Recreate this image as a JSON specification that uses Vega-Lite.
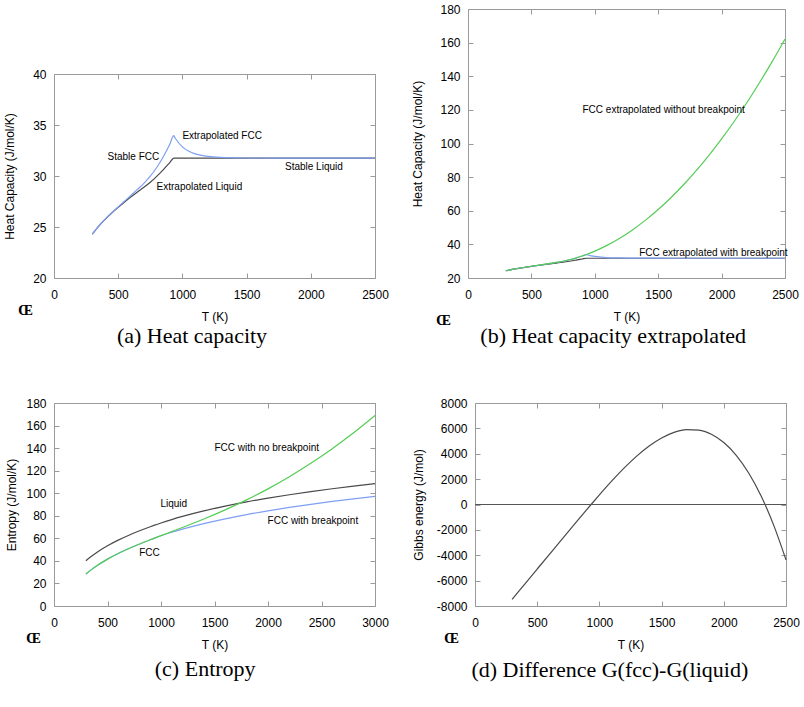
{
  "$schema": "https://vega.github.io/schema/vega-lite/v6.json",
  "padding": {"left": 3, "top": 2, "right": 0, "bottom": 0},
  "background": "white",
  "datasets": {
    "cp": [
      {"T": 298.15, "v": 24.290, "s": "liq"},
      {"T": 350, "v": 25.116, "s": "liq"},
      {"T": 400, "v": 25.778, "s": "liq"},
      {"T": 450, "v": 26.370, "s": "liq"},
      {"T": 500, "v": 26.924, "s": "liq"},
      {"T": 550, "v": 27.451, "s": "liq"},
      {"T": 600, "v": 27.957, "s": "liq"},
      {"T": 650, "v": 28.440, "s": "liq"},
      {"T": 700, "v": 28.892, "s": "liq"},
      {"T": 750, "v": 29.384, "s": "liq"},
      {"T": 800, "v": 29.963, "s": "liq"},
      {"T": 850, "v": 30.606, "s": "liq"},
      {"T": 900, "v": 31.287, "s": "liq"},
      {"T": 933.47, "v": 31.748, "s": "liq"},
      {"T": 2500, "v": 31.748, "s": "liq"},
      {"T": 298.15, "v": 24.292, "s": "fcc_bp"},
      {"T": 350, "v": 25.122, "s": "fcc_bp"},
      {"T": 400, "v": 25.791, "s": "fcc_bp"},
      {"T": 450, "v": 26.398, "s": "fcc_bp"},
      {"T": 500, "v": 26.976, "s": "fcc_bp"},
      {"T": 550, "v": 27.543, "s": "fcc_bp"},
      {"T": 600, "v": 28.113, "s": "fcc_bp"},
      {"T": 650, "v": 28.691, "s": "fcc_bp"},
      {"T": 700, "v": 29.284, "s": "fcc_bp"},
      {"T": 750, "v": 29.977, "s": "fcc_bp"},
      {"T": 800, "v": 30.836, "s": "fcc_bp"},
      {"T": 850, "v": 31.863, "s": "fcc_bp"},
      {"T": 900, "v": 33.058, "s": "fcc_bp"},
      {"T": 933.47, "v": 33.953, "s": "fcc_bp"},
      {"T": 940, "v": 33.805, "s": "fcc_bp"},
      {"T": 950, "v": 33.598, "s": "fcc_bp"},
      {"T": 1000, "v": 32.856, "s": "fcc_bp"},
      {"T": 1050, "v": 32.428, "s": "fcc_bp"},
      {"T": 1100, "v": 32.175, "s": "fcc_bp"},
      {"T": 1150, "v": 32.022, "s": "fcc_bp"},
      {"T": 1200, "v": 31.927, "s": "fcc_bp"},
      {"T": 1300, "v": 31.829, "s": "fcc_bp"},
      {"T": 1400, "v": 31.786, "s": "fcc_bp"},
      {"T": 1500, "v": 31.767, "s": "fcc_bp"},
      {"T": 1700, "v": 31.754, "s": "fcc_bp"},
      {"T": 2000, "v": 31.749, "s": "fcc_bp"},
      {"T": 2500, "v": 31.748, "s": "fcc_bp"},
      {"T": 298.15, "v": 24.292, "s": "fcc_nobp"},
      {"T": 350, "v": 25.122, "s": "fcc_nobp"},
      {"T": 400, "v": 25.791, "s": "fcc_nobp"},
      {"T": 450, "v": 26.398, "s": "fcc_nobp"},
      {"T": 500, "v": 26.976, "s": "fcc_nobp"},
      {"T": 550, "v": 27.543, "s": "fcc_nobp"},
      {"T": 600, "v": 28.113, "s": "fcc_nobp"},
      {"T": 650, "v": 28.691, "s": "fcc_nobp"},
      {"T": 700, "v": 29.284, "s": "fcc_nobp"},
      {"T": 750, "v": 29.977, "s": "fcc_nobp"},
      {"T": 800, "v": 30.836, "s": "fcc_nobp"},
      {"T": 850, "v": 31.863, "s": "fcc_nobp"},
      {"T": 900, "v": 33.058, "s": "fcc_nobp"},
      {"T": 933.47, "v": 33.953, "s": "fcc_nobp"},
      {"T": 1000, "v": 35.958, "s": "fcc_nobp"},
      {"T": 1100, "v": 39.540, "s": "fcc_nobp"},
      {"T": 1200, "v": 43.808, "s": "fcc_nobp"},
      {"T": 1300, "v": 48.763, "s": "fcc_nobp"},
      {"T": 1400, "v": 54.407, "s": "fcc_nobp"},
      {"T": 1500, "v": 60.740, "s": "fcc_nobp"},
      {"T": 1600, "v": 67.763, "s": "fcc_nobp"},
      {"T": 1700, "v": 75.476, "s": "fcc_nobp"},
      {"T": 1800, "v": 83.880, "s": "fcc_nobp"},
      {"T": 1900, "v": 92.975, "s": "fcc_nobp"},
      {"T": 2000, "v": 102.761, "s": "fcc_nobp"},
      {"T": 2100, "v": 113.238, "s": "fcc_nobp"},
      {"T": 2200, "v": 124.406, "s": "fcc_nobp"},
      {"T": 2300, "v": 136.266, "s": "fcc_nobp"},
      {"T": 2400, "v": 148.817, "s": "fcc_nobp"},
      {"T": 2500, "v": 162.059, "s": "fcc_nobp"}
    ],
    "entropy": [
      {"T": 298.15, "v": 40.14, "s": "liq"},
      {"T": 350, "v": 44.10, "s": "liq"},
      {"T": 400, "v": 47.50, "s": "liq"},
      {"T": 500, "v": 53.38, "s": "liq"},
      {"T": 600, "v": 58.38, "s": "liq"},
      {"T": 700, "v": 62.76, "s": "liq"},
      {"T": 800, "v": 66.69, "s": "liq"},
      {"T": 900, "v": 70.29, "s": "liq"},
      {"T": 933.47, "v": 71.44, "s": "liq"},
      {"T": 1000, "v": 73.63, "s": "liq"},
      {"T": 1100, "v": 76.65, "s": "liq"},
      {"T": 1200, "v": 79.42, "s": "liq"},
      {"T": 1400, "v": 84.31, "s": "liq"},
      {"T": 1600, "v": 88.55, "s": "liq"},
      {"T": 1800, "v": 92.29, "s": "liq"},
      {"T": 2000, "v": 95.63, "s": "liq"},
      {"T": 2200, "v": 98.66, "s": "liq"},
      {"T": 2400, "v": 101.42, "s": "liq"},
      {"T": 2600, "v": 103.96, "s": "liq"},
      {"T": 2800, "v": 106.32, "s": "liq"},
      {"T": 3000, "v": 108.50, "s": "liq"},
      {"T": 298.15, "v": 28.30, "s": "fcc_bp"},
      {"T": 350, "v": 32.26, "s": "fcc_bp"},
      {"T": 400, "v": 35.66, "s": "fcc_bp"},
      {"T": 500, "v": 41.55, "s": "fcc_bp"},
      {"T": 600, "v": 46.56, "s": "fcc_bp"},
      {"T": 700, "v": 50.99, "s": "fcc_bp"},
      {"T": 800, "v": 54.99, "s": "fcc_bp"},
      {"T": 900, "v": 58.74, "s": "fcc_bp"},
      {"T": 933.47, "v": 59.97, "s": "fcc_bp"},
      {"T": 1000, "v": 62.26, "s": "fcc_bp"},
      {"T": 1100, "v": 65.36, "s": "fcc_bp"},
      {"T": 1200, "v": 68.14, "s": "fcc_bp"},
      {"T": 1400, "v": 73.05, "s": "fcc_bp"},
      {"T": 1600, "v": 77.29, "s": "fcc_bp"},
      {"T": 1800, "v": 81.03, "s": "fcc_bp"},
      {"T": 2000, "v": 84.38, "s": "fcc_bp"},
      {"T": 2200, "v": 87.40, "s": "fcc_bp"},
      {"T": 2400, "v": 90.17, "s": "fcc_bp"},
      {"T": 2600, "v": 92.71, "s": "fcc_bp"},
      {"T": 2800, "v": 95.06, "s": "fcc_bp"},
      {"T": 3000, "v": 97.24, "s": "fcc_bp"},
      {"T": 298.15, "v": 28.30, "s": "fcc_nobp"},
      {"T": 350, "v": 32.26, "s": "fcc_nobp"},
      {"T": 400, "v": 35.66, "s": "fcc_nobp"},
      {"T": 500, "v": 41.55, "s": "fcc_nobp"},
      {"T": 600, "v": 46.56, "s": "fcc_nobp"},
      {"T": 700, "v": 50.99, "s": "fcc_nobp"},
      {"T": 800, "v": 54.99, "s": "fcc_nobp"},
      {"T": 900, "v": 58.74, "s": "fcc_nobp"},
      {"T": 933.47, "v": 59.97, "s": "fcc_nobp"},
      {"T": 1000, "v": 62.37, "s": "fcc_nobp"},
      {"T": 1100, "v": 65.96, "s": "fcc_nobp"},
      {"T": 1200, "v": 69.58, "s": "fcc_nobp"},
      {"T": 1400, "v": 77.09, "s": "fcc_nobp"},
      {"T": 1600, "v": 85.20, "s": "fcc_nobp"},
      {"T": 1800, "v": 94.08, "s": "fcc_nobp"},
      {"T": 2000, "v": 103.87, "s": "fcc_nobp"},
      {"T": 2200, "v": 114.66, "s": "fcc_nobp"},
      {"T": 2400, "v": 126.51, "s": "fcc_nobp"},
      {"T": 2600, "v": 139.48, "s": "fcc_nobp"},
      {"T": 2800, "v": 153.60, "s": "fcc_nobp"},
      {"T": 3000, "v": 168.91, "s": "fcc_nobp"}
    ],
    "gibbs": [
      {"T": 298.15, "v": -7474.4},
      {"T": 400, "v": -6268.4},
      {"T": 500, "v": -5084.7},
      {"T": 600, "v": -3902.1},
      {"T": 700, "v": -2722.3},
      {"T": 800, "v": -1548.2},
      {"T": 900, "v": -385.3},
      {"T": 933.47, "v": 0},
      {"T": 1000, "v": 756.8},
      {"T": 1100, "v": 1856.6},
      {"T": 1200, "v": 2885.6},
      {"T": 1300, "v": 3813.9},
      {"T": 1400, "v": 4611.3},
      {"T": 1500, "v": 5246.9},
      {"T": 1600, "v": 5689.1},
      {"T": 1700, "v": 5906.2},
      {"T": 1800, "v": 5866.1},
      {"T": 1900, "v": 5536.3},
      {"T": 2000, "v": 4884.3},
      {"T": 2100, "v": 3877.2},
      {"T": 2200, "v": 2482.0},
      {"T": 2300, "v": 665.7},
      {"T": 2400, "v": -1605.1},
      {"T": 2500, "v": -4363.7}
    ]
  },
  "config": {
    "view": {"stroke": "#9a9a9a", "strokeWidth": 1},
    "axis": {
      "domain": false,
      "grid": false,
      "offset": -5,
      "tickColor": "#9a9a9a",
      "tickSize": 5,
      "tickWidth": 1,
      "labelFont": "Liberation Sans",
      "labelFontSize": 12,
      "labelColor": "#000000",
      "labelFlush": false,
      "labelOverlap": false,
      "titleFont": "Liberation Sans",
      "titleFontSize": 12,
      "titleFontWeight": "normal",
      "titleColor": "#000000",
      "labelExpr": "'' + datum.value"
    },
    "axisBottom": {"labelPadding": 11, "titlePadding": 11},
    "axisLeft": {"labelPadding": 8, "titlePadding": 11},
    "title": {
      "font": "Liberation Serif",
      "fontSize": 22,
      "fontWeight": "normal",
      "color": "#000000",
      "orient": "bottom",
      "anchor": "middle",
      "frame": "bounds",
      "offset": 4
    },
    "text": {"font": "Liberation Sans", "fontSize": 10, "align": "left", "baseline": "middle", "color": "#000000"},
    "line": {"strokeWidth": 1.2, "interpolate": "monotone"}
  },
  "spacing": 48,
  "vconcat": [
    {
      "spacing": 22,
      "hconcat": [
        {
          "spacing": 47,
          "vconcat": [
            {
              "width": 10,
              "height": 11,
              "view": {"stroke": null},
              "data": {"values": []},
              "mark": "point",
              "encoding": {}
            },
            {
              "width": 321,
              "height": 204,
              "title": {"text": "(a) Heat capacity", "dx": -4},
              "resolve": {"axis": {"x": "independent", "y": "independent"}},
              "layer": [
                {
                  "data": {"name": "cp"},
                  "transform": [{"filter": "datum.s != 'fcc_nobp'"}],
                  "mark": {"type": "line"},
                  "encoding": {
                    "x": {"field": "T", "type": "quantitative", "scale": {"domain": [0, 2500], "nice": false, "zero": false},
                          "axis": {"orient": "bottom", "values": [0, 500, 1000, 1500, 2000, 2500], "title": "T (K)"}},
                    "y": {"field": "v", "type": "quantitative", "scale": {"domain": [20, 40], "nice": false, "zero": false},
                          "axis": {"orient": "left", "values": [20, 25, 30, 35, 40], "title": "Heat Capacity (J/mol/K)", "titlePadding": 16}},
                    "color": {"field": "s", "type": "nominal", "legend": null,
                              "scale": {"domain": ["liq", "fcc_bp", "fcc_nobp"], "range": ["#4a4a4a", "#7f9ff2", "#55cc55"]}}
                  }
                },
                {
                  "data": {"values": [
                    {"T": 1000, "v": 33.93, "label": "Extrapolated FCC"},
                    {"T": 417, "v": 31.9, "label": "Stable FCC"},
                    {"T": 799, "v": 28.95, "label": "Extrapolated Liquid"},
                    {"T": 1799, "v": 30.92, "label": "Stable Liquid"}
                  ]},
                  "mark": {"type": "text"},
                  "encoding": {
                    "x": {"field": "T", "type": "quantitative",
                          "axis": {"orient": "top", "values": [0, 500, 1000, 1500, 2000, 2500], "labels": false,
                                   "title": "Œ", "titleFont": "Liberation Serif", "titleFontWeight": "bold", "titleFontSize": 15,
                                   "titleAngle": 0, "titleAlign": "center", "titleBaseline": "middle", "titleX": -29, "titleY": 230}},
                    "y": {"field": "v", "type": "quantitative",
                          "axis": {"orient": "right", "values": [20, 25, 30, 35, 40], "labels": false, "title": null}},
                    "text": {"field": "label"}
                  }
                }
              ]
            }
          ]
        },
        {
          "width": 317,
          "height": 269,
          "title": {"text": "(b) Heat capacity extrapolated", "dx": 8, "offset": -1},
          "resolve": {"axis": {"x": "independent", "y": "independent"}},
          "layer": [
            {
              "data": {"name": "cp"},
              "mark": {"type": "line"},
              "encoding": {
                "x": {"field": "T", "type": "quantitative", "scale": {"domain": [0, 2500], "nice": false, "zero": false},
                      "axis": {"orient": "bottom", "values": [0, 500, 1000, 1500, 2000, 2500], "title": "T (K)"}},
                "y": {"field": "v", "type": "quantitative", "scale": {"domain": [20, 180], "nice": false, "zero": false},
                      "axis": {"orient": "left", "values": [20, 40, 60, 80, 100, 120, 140, 160, 180], "title": "Heat Capacity (J/mol/K)", "titlePadding": 15}},
                "color": {"field": "s", "type": "nominal", "legend": null,
                          "scale": {"domain": ["liq", "fcc_bp", "fcc_nobp"], "range": ["#4a4a4a", "#7f9ff2", "#55cc55"]}}
              }
            },
            {
              "data": {"values": [
                {"T": 903, "v": 120.0, "label": "FCC extrapolated without breakpoint"},
                {"T": 1350, "v": 35.1, "label": "FCC extrapolated with breakpoint"}
              ]},
              "mark": {"type": "text"},
              "encoding": {
                "x": {"field": "T", "type": "quantitative",
                      "axis": {"orient": "top", "values": [0, 500, 1000, 1500, 2000, 2500], "labels": false,
                               "title": "Œ", "titleFont": "Liberation Serif", "titleFontWeight": "bold", "titleFontSize": 15,
                               "titleAngle": 0, "titleAlign": "center", "titleBaseline": "middle", "titleX": -25, "titleY": 305}},
                "y": {"field": "v", "type": "quantitative",
                      "axis": {"orient": "right", "values": [20, 40, 60, 80, 100, 120, 140, 160, 180], "labels": false, "title": null}},
                "text": {"field": "label"}
              }
            }
          ]
        }
      ]
    },
    {
      "spacing": 22,
      "hconcat": [
        {
          "width": 321,
          "height": 203,
          "title": {"text": "(c) Entropy", "dx": 8, "offset": 9},
          "resolve": {"axis": {"x": "independent", "y": "independent"}},
          "layer": [
            {
              "data": {"name": "entropy"},
              "mark": {"type": "line"},
              "encoding": {
                "x": {"field": "T", "type": "quantitative", "scale": {"domain": [0, 3000], "nice": false, "zero": false},
                      "axis": {"orient": "bottom", "values": [0, 500, 1000, 1500, 2000, 2500, 3000], "title": "T (K)"}},
                "y": {"field": "v", "type": "quantitative", "scale": {"domain": [0, 180], "nice": false, "zero": false},
                      "axis": {"orient": "left", "values": [0, 20, 40, 60, 80, 100, 120, 140, 160, 180], "title": "Entropy (J/mol/K)", "titlePadding": 7}},
                "color": {"field": "s", "type": "nominal", "legend": null,
                          "scale": {"domain": ["liq", "fcc_bp", "fcc_nobp"], "range": ["#4a4a4a", "#7f9ff2", "#55cc55"]}}
              }
            },
            {
              "data": {"values": [
                {"T": 1500, "v": 139.8, "label": "FCC with no breakpoint"},
                {"T": 995, "v": 90.1, "label": "Liquid"},
                {"T": 1996, "v": 75.4, "label": "FCC with breakpoint"},
                {"T": 796, "v": 47.0, "label": "FCC"}
              ]},
              "mark": {"type": "text"},
              "encoding": {
                "x": {"field": "T", "type": "quantitative",
                      "axis": {"orient": "top", "values": [0, 500, 1000, 1500, 2000, 2500, 3000], "labels": false,
                               "title": "Œ", "titleFont": "Liberation Serif", "titleFontWeight": "bold", "titleFontSize": 15,
                               "titleAngle": 0, "titleAlign": "center", "titleBaseline": "middle", "titleX": -21, "titleY": 229}},
                "y": {"field": "v", "type": "quantitative",
                      "axis": {"orient": "right", "values": [0, 20, 40, 60, 80, 100, 120, 140, 160, 180], "labels": false, "title": null}},
                "text": {"field": "label"}
              }
            }
          ]
        },
        {
          "width": 311,
          "height": 203,
          "title": {"text": "(d) Difference G(fcc)-G(liquid)", "dx": 4, "offset": 10},
          "resolve": {"axis": {"x": "independent", "y": "independent"}},
          "layer": [
            {
              "data": {"name": "gibbs"},
              "mark": {"type": "line", "color": "#4a4a4a"},
              "encoding": {
                "x": {"field": "T", "type": "quantitative", "scale": {"domain": [0, 2500], "nice": false, "zero": false},
                      "axis": {"orient": "bottom", "values": [0, 500, 1000, 1500, 2000, 2500], "title": "T (K)"}},
                "y": {"field": "v", "type": "quantitative", "scale": {"domain": [-8000, 8000], "nice": false, "zero": false},
                      "axis": {"orient": "left", "values": [-8000, -6000, -4000, -2000, 0, 2000, 4000, 6000, 8000], "title": "Gibbs energy (J/mol)", "titlePadding": 11}}
              }
            },
            {
              "data": {"values": [{"T": 0, "T2": 2500, "v": 0}]},
              "mark": {"type": "rule", "color": "#555555", "strokeWidth": 1.2},
              "encoding": {
                "x": {"field": "T", "type": "quantitative",
                      "axis": {"orient": "top", "values": [0, 500, 1000, 1500, 2000, 2500], "labels": false,
                               "title": "Œ", "titleFont": "Liberation Serif", "titleFontWeight": "bold", "titleFontSize": 15,
                               "titleAngle": 0, "titleAlign": "center", "titleBaseline": "middle", "titleX": -24, "titleY": 229}},
                "x2": {"field": "T2"},
                "y": {"field": "v", "type": "quantitative",
                      "axis": {"orient": "right", "values": [-8000, -6000, -4000, -2000, 0, 2000, 4000, 6000, 8000], "labels": false, "title": null}}
              }
            }
          ]
        }
      ]
    }
  ]
}
